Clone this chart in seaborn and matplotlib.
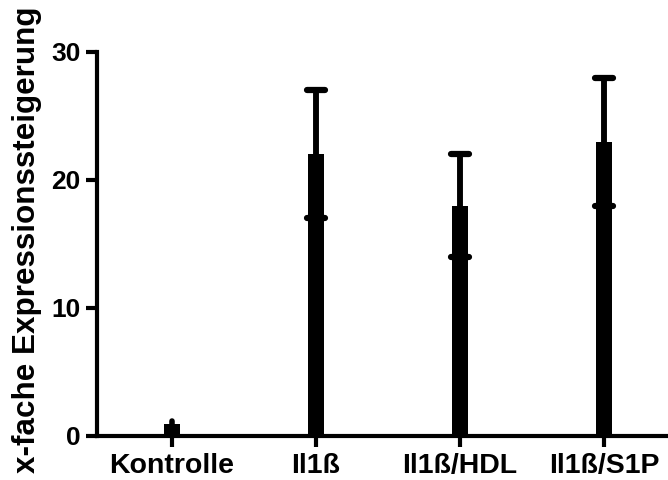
import matplotlib
matplotlib.use("Agg")
import matplotlib.pyplot as plt
from matplotlib.markers import MarkerStyle
import seaborn as sns
import pandas as pd
import numpy as np

categories = ["Kontrolle", "Il1ß", "Il1ß/HDL", "Il1ß/S1P"]
means = [0.9, 22.0, 18.0, 23.0]
errors = [0.3, 5.0, 4.0, 5.0]
y_ticks = [0, 10, 20, 30]

sns.set_style("white")
plt.rcParams["font.family"] = ["Liberation Sans", "DejaVu Sans"]
plt.rcParams["font.weight"] = "bold"
plt.rcParams["text.color"] = "black"
plt.rcParams["axes.labelcolor"] = "black"
plt.rcParams["xtick.color"] = "black"
plt.rcParams["ytick.color"] = "black"

df = pd.DataFrame({"Gruppe": categories, "Wert": means})

fig = plt.figure(figsize=(6.68, 4.8), dpi=100)
ax = fig.add_axes([0.1452, 0.0917, 0.8548, 0.80])

sns.barplot(data=df, x="Gruppe", y="Wert", color="black", width=0.108,
            errorbar=None, ax=ax, saturation=1)
for p in ax.patches:
    p.set_linewidth(0)

x = np.arange(len(categories))
m = np.array(means)
e = np.array(errors)
wide = e > 1.0

# whiskers with round ends for every group
ax.vlines(x, m - e, m + e, colors="black", linewidth=4, capstyle="round", zorder=5)
# caps only where the whisker is long enough to carry them
eb = ax.errorbar(x[wide], m[wide], yerr=e[wide], fmt="none", ecolor="black",
                 elinewidth=4, capsize=6.3, capthick=4.5, zorder=6)
for cap in eb[1]:
    cap.set_marker(MarkerStyle("_", capstyle="round"))

ax.set_xlim(-0.52, 3.445)
ax.set_ylim(0, 30)
ax.set_yticks(y_ticks)
ax.set_yticklabels([str(t) for t in y_ticks], fontsize=19, fontweight="bold")
ax.set_xticks(x)
ax.set_xticklabels(categories, fontsize=20.5, fontweight="bold")
ax.set_xlabel("")
ax.set_ylabel("x-fache Expressionssteigerung", fontsize=22.6, fontweight="bold")
ax.yaxis.set_label_coords(-0.096, 0.51)

for side in ["top", "right"]:
    ax.spines[side].set_visible(False)
for side in ["left", "bottom"]:
    ax.spines[side].set_linewidth(3)
    ax.spines[side].set_color("black")
ax.tick_params(axis="both", direction="out", length=8, width=3, color="black",
               labelcolor="black", left=True, bottom=True, pad=4)

fig.savefig("out.png", dpi=100)
